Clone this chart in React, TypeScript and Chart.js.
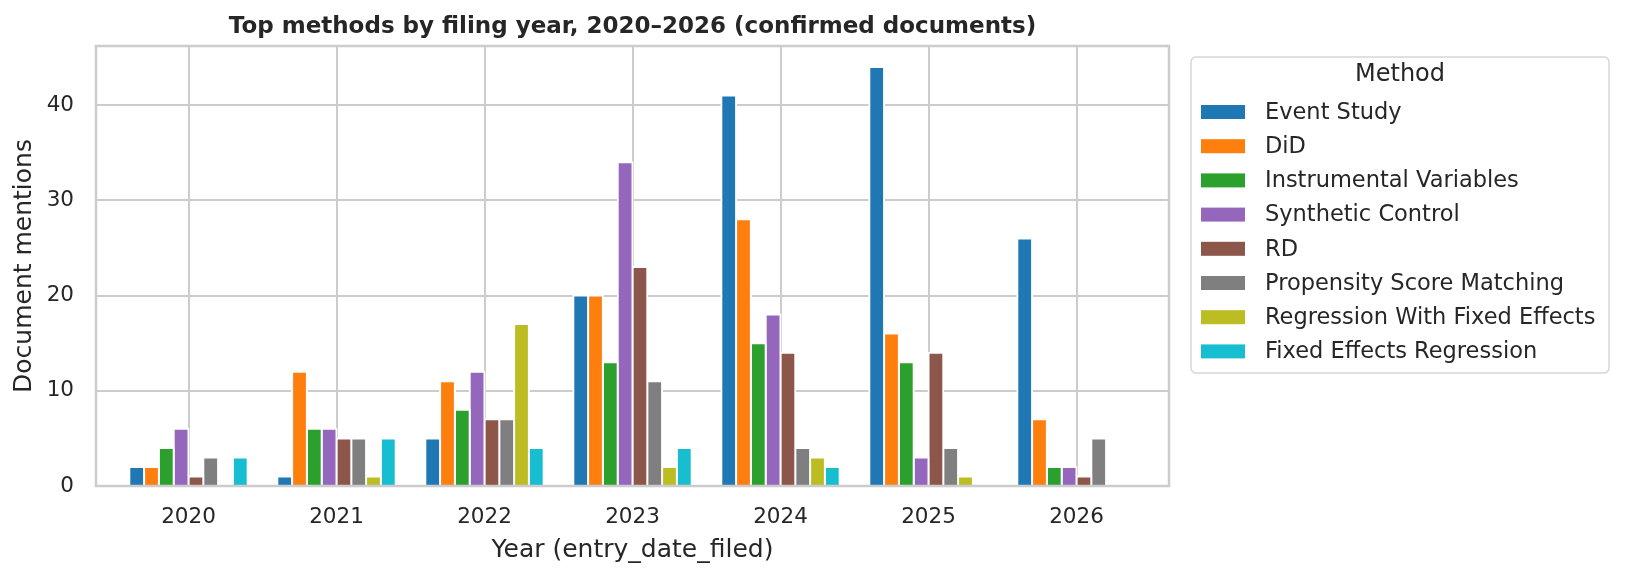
import { useEffect, useRef } from "react";
import { Chart, registerables, Plugin } from "chart.js";

Chart.register(...registerables);

// Data
const years = ["2020", "2021", "2022", "2023", "2024", "2025", "2026"];
const methodNames = [
  "Event Study",
  "DiD",
  "Instrumental Variables",
  "Synthetic Control",
  "RD",
  "Propensity Score Matching",
  "Regression With Fixed Effects",
  "Fixed Effects Regression",
];
const eventStudy = [2, 1, 5, 20, 41, 44, 26];
const did = [2, 12, 11, 20, 28, 16, 7];
const instrumentalVariables = [4, 6, 8, 13, 15, 13, 2];
const syntheticControl = [6, 6, 12, 34, 18, 3, 2];
const rd = [1, 5, 7, 23, 14, 14, 1];
const propensityScoreMatching = [3, 5, 7, 11, 4, 4, 5];
const regressionWithFixedEffects = [0, 1, 17, 2, 3, 1, 0];
const fixedEffectsRegression = [3, 5, 4, 4, 2, 0, 0];
const yTicks = [0, 10, 20, 30, 40];

const seriesValues = [
  eventStudy,
  did,
  instrumentalVariables,
  syntheticControl,
  rd,
  propensityScoreMatching,
  regressionWithFixedEffects,
  fixedEffectsRegression,
];

// tab10, minus red and pink
const colors = [
  "#1f77b4",
  "#ff7f0e",
  "#2ca02c",
  "#9467bd",
  "#8c564b",
  "#7f7f7f",
  "#bcbd22",
  "#17becf",
];

const FONT = "'DejaVu Sans', 'Liberation Sans', sans-serif";
const TEXT = "#262626";
const GRID = "#cccccc";
const TITLE = "Top methods by filing year, 2020\u20132026 (confirmed documents)";

const decorations: Plugin<"bar"> = {
  id: "decorations",
  afterDatasetsDraw(chart) {
    // frame on all four sides, drawn over the bars like matplotlib spines
    const { ctx, chartArea } = chart;
    ctx.save();
    ctx.strokeStyle = GRID;
    ctx.lineWidth = 2.5;
    ctx.strokeRect(
      chartArea.left,
      chartArea.top,
      chartArea.right - chartArea.left,
      chartArea.bottom - chartArea.top
    );
    ctx.restore();
  },
  afterDraw(chart) {
    const { ctx, chartArea } = chart;
    ctx.save();

    // title
    ctx.fillStyle = TEXT;
    ctx.font = `bold 23px ${FONT}`;
    ctx.textAlign = "center";
    ctx.textBaseline = "alphabetic";
    ctx.fillText(TITLE, (chartArea.left + chartArea.right) / 2, 33);

    // legend box
    const bx = 1191;
    const by = 57;
    const bw = 418;
    const bh = 316;
    ctx.beginPath();
    ctx.roundRect(bx, by, bw, bh, 5);
    ctx.fillStyle = "#ffffff";
    ctx.fill();
    ctx.strokeStyle = "#d6d6d6";
    ctx.lineWidth = 1.5;
    ctx.stroke();

    ctx.fillStyle = TEXT;
    ctx.font = `24px ${FONT}`;
    ctx.textAlign = "center";
    ctx.textBaseline = "middle";
    ctx.fillText("Method", bx + bw / 2, 75);

    ctx.font = `22.5px ${FONT}`;
    ctx.textAlign = "left";
    chart.data.datasets.forEach((ds, i) => {
      const cy = 112 + i * 34.2;
      ctx.fillStyle = ds.backgroundColor as string;
      ctx.fillRect(1201, cy - 7, 44, 14);
      ctx.fillStyle = TEXT;
      ctx.fillText(ds.label as string, 1265, cy + 1);
    });

    ctx.restore();
  },
};

const App = () => {
  const canvasRef = useRef<HTMLCanvasElement>(null);
  const chartRef = useRef<Chart<"bar"> | null>(null);

  useEffect(() => {
    document.body.style.margin = "0";
    if (!canvasRef.current) return;
    if (chartRef.current) chartRef.current.destroy();

    const ctx = canvasRef.current.getContext("2d");
    if (!ctx) return;

    chartRef.current = new Chart(ctx, {
      type: "bar",
      data: {
        datasets: methodNames.map((name, i) => ({
          label: name,
          data: seriesValues[i].map((v, j) => ({ x: j, y: v })),
          backgroundColor: colors[i],
          borderColor: "#ffffff",
          borderWidth: 2,
          inflateAmount: 1,
          barPercentage: 1,
          categoryPercentage: 0.8,
        })),
      },
      options: {
        responsive: false,
        animation: false,
        layout: {
          padding: { left: 0, top: 46, right: 456, bottom: 0 },
        },
        plugins: {
          legend: { display: false },
          tooltip: { enabled: false },
          title: { display: false },
        },
        scales: {
          x: {
            type: "linear",
            min: -0.625,
            max: years.length - 1 + 0.625,
            offset: false,
            grid: { color: GRID, lineWidth: 2, drawTicks: false, offset: false },
            border: { display: false },
            ticks: {
              stepSize: 1,
              includeBounds: false,
              autoSkip: false,
              padding: 19,
              color: TEXT,
              font: { family: FONT, size: 21.5 },
              callback: (value) => years[Number(value)] ?? "",
            },
            title: {
              display: true,
              text: "Year (entry_date_filed)",
              color: TEXT,
              font: { family: FONT, size: 25 },
              padding: { top: 0, bottom: 12 },
            },
            afterFit: (scale) => {
              scale.height = 91;
            },
          },
          y: {
            type: "linear",
            min: 0,
            max: Math.max(...eventStudy) * 1.05,
            grid: { color: GRID, lineWidth: 2, drawTicks: false },
            border: { display: false },
            afterBuildTicks: (scale) => {
              scale.ticks = yTicks.map((v) => ({ value: v }));
            },
            ticks: {
              padding: 22,
              color: TEXT,
              font: { family: FONT, size: 21.5 },
            },
            title: {
              display: true,
              text: "Document mentions",
              color: TEXT,
              font: { family: FONT, size: 25 },
              padding: { top: 9, bottom: 0 },
            },
            afterFit: (scale) => {
              scale.width = 96;
            },
          },
        },
      },
      plugins: [decorations],
    });

    return () => {
      if (chartRef.current) {
        chartRef.current.destroy();
        chartRef.current = null;
      }
    };
  }, []);

  return (
    <div style={{ width: 1625, height: 577 }}>
      <canvas
        ref={canvasRef}
        width={1625}
        height={577}
        style={{ display: "block", width: 1625, height: 577 }}
      ></canvas>
    </div>
  );
};

export default App;
